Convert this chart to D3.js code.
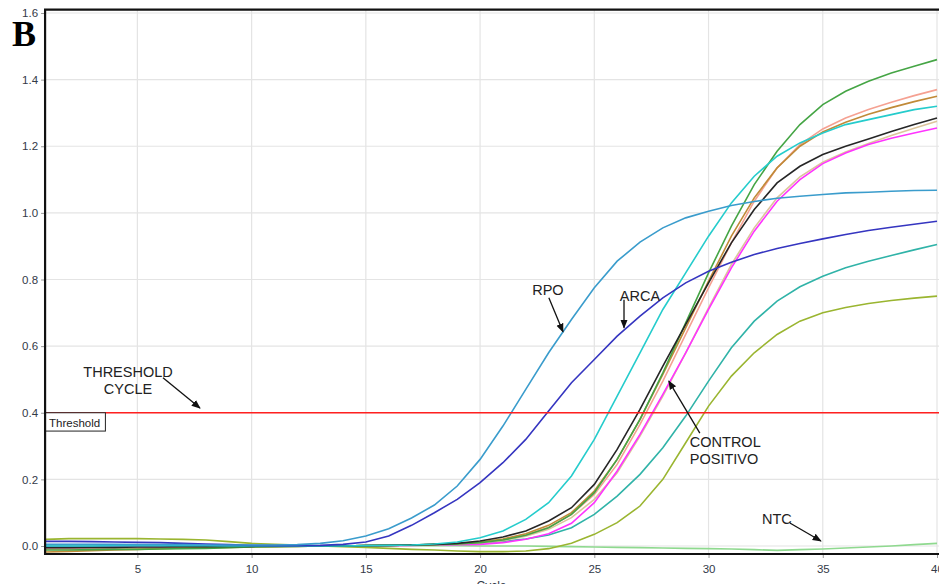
<!DOCTYPE html>
<html>
<head>
<meta charset="utf-8">
<script src="https://cdn.jsdelivr.net/npm/d3@7"></script>
<style>
	body { margin: 0; background: #fff; }
	svg { display: block; font-family: "Liberation Sans", Arial, sans-serif; }
</style>
</head>
<body>
<svg id="chart" width="939" height="584"></svg>
<script>
const cycles = [1, 2, 3, 4, 5, 6, 7, 8, 9, 10, 11, 12, 13, 14, 15, 16, 17, 18, 19, 20,
	21, 22, 23, 24, 25, 26, 27, 28, 29, 30, 31, 32, 33, 34, 35, 36, 37, 38, 39, 40];

const xTicks = [5, 10, 15, 20, 25, 30, 35, 40];
const yTicks = [0.0, 0.2, 0.4, 0.6, 0.8, 1.0, 1.2, 1.4, 1.6];
const threshold = 0.4;

// fluorescence per cycle, one array per well
const ntc = [0, 0, 0, 0, 0, 0, 0, 0, 0, 0,
	0, 0, 0, 0, 0, 0.001, 0.001, 0.001, 0.001, 0,
	0, 0, -0.001, -0.002, -0.003, -0.004, -0.005, -0.006, -0.007, -0.008,
	-0.009, -0.011, -0.013, -0.011, -0.009, -0.006, -0.003, 0, 0.004, 0.008];
const rpo = [0.005, 0.005, 0.005, 0.005, 0.004, 0.004, 0.004, 0.003, 0.003, 0.003,
	0.003, 0.004, 0.008, 0.016, 0.03, 0.052, 0.084, 0.123, 0.18, 0.26,
	0.36, 0.47, 0.58, 0.68, 0.775, 0.855, 0.912, 0.955, 0.985, 1.005,
	1.022, 1.034, 1.044, 1.05, 1.055, 1.06, 1.062, 1.065, 1.067, 1.068];
const arca = [0.014, 0.014, 0.013, 0.012, 0.011, 0.01, 0.008, 0.006, 0.004, 0.002,
	0.001, 0.001, 0.002, 0.005, 0.012, 0.03, 0.062, 0.1, 0.14, 0.19,
	0.25, 0.32, 0.405, 0.49, 0.56, 0.63, 0.69, 0.745, 0.79, 0.825,
	0.852, 0.875, 0.893, 0.908, 0.922, 0.935, 0.947, 0.957, 0.966, 0.975];
const cyan = [0, 0, 0, 0.001, 0.001, 0.001, 0.001, 0.001, 0, 0,
	0, 0, 0, 0, 0.001, 0.002, 0.003, 0.006, 0.012, 0.025,
	0.045, 0.08, 0.13, 0.21, 0.32, 0.45, 0.58, 0.71, 0.82, 0.93,
	1.03, 1.11, 1.17, 1.21, 1.24, 1.265, 1.28, 1.295, 1.31, 1.32];
const black = [-0.005, -0.005, -0.004, -0.004, -0.003, -0.003, -0.002, -0.002, -0.001, -0.001,
	0, 0, 0, 0, 0.001, 0.002, 0.003, 0.005, 0.008, 0.015,
	0.027, 0.045, 0.075, 0.115, 0.185, 0.29, 0.41, 0.54, 0.665, 0.79,
	0.91, 1.01, 1.09, 1.14, 1.175, 1.2, 1.222, 1.244, 1.265, 1.285];
const green = [-0.012, -0.012, -0.011, -0.01, -0.01, -0.009, -0.008, -0.007, -0.005, -0.003,
	-0.002, -0.001, 0, 0, 0.001, 0.002, 0.003, 0.004, 0.006, 0.01,
	0.018, 0.032, 0.055, 0.095, 0.16, 0.26, 0.38, 0.52, 0.67, 0.82,
	0.96, 1.085, 1.185, 1.265, 1.325, 1.365, 1.395, 1.42, 1.44, 1.46];
const salmon = [-0.01, -0.01, -0.009, -0.008, -0.007, -0.006, -0.005, -0.004, -0.003, -0.002,
	-0.001, 0, 0, 0, 0.001, 0.002, 0.003, 0.004, 0.006, 0.01,
	0.019, 0.033, 0.056, 0.095, 0.155, 0.245, 0.365, 0.495, 0.635, 0.775,
	0.91, 1.035, 1.135, 1.205, 1.252, 1.285, 1.31, 1.332, 1.352, 1.37];
const brown = [-0.018, -0.016, -0.014, -0.012, -0.01, -0.008, -0.006, -0.005, -0.004, -0.003,
	-0.002, -0.001, 0, 0, 0.001, 0.002, 0.003, 0.005, 0.007, 0.012,
	0.021, 0.037, 0.062, 0.1, 0.165, 0.26, 0.38, 0.515, 0.655, 0.795,
	0.93, 1.045, 1.135, 1.2, 1.243, 1.272, 1.296, 1.316, 1.334, 1.35];
const tan = [-0.008, -0.008, -0.007, -0.007, -0.006, -0.005, -0.004, -0.003, -0.002, -0.002,
	-0.001, 0, 0, 0, 0.001, 0.002, 0.003, 0.004, 0.006, 0.009,
	0.016, 0.029, 0.05, 0.085, 0.14, 0.22, 0.33, 0.45, 0.58, 0.715,
	0.845, 0.955, 1.045, 1.108, 1.152, 1.183, 1.208, 1.232, 1.254, 1.275];
const magenta = [-0.004, -0.004, -0.004, -0.003, -0.003, -0.003, -0.002, -0.002, -0.001, -0.001,
	0, 0, 0, 0, 0, 0.001, 0.002, 0.003, 0.004, 0.005,
	0.01, 0.02, 0.037, 0.068, 0.13, 0.225, 0.335, 0.455, 0.58, 0.71,
	0.835, 0.945, 1.035, 1.1, 1.148, 1.18, 1.205, 1.224, 1.24, 1.255];
const teal = [-0.002, -0.002, -0.002, -0.001, -0.001, -0.001, 0, 0, 0, 0,
	0, 0, 0, 0, 0.001, 0.002, 0.003, 0.004, 0.006, 0.009,
	0.014, 0.021, 0.033, 0.055, 0.095, 0.15, 0.215, 0.295, 0.39, 0.495,
	0.595, 0.675, 0.735, 0.778, 0.81, 0.835, 0.855, 0.872, 0.889, 0.905];
const olive = [0.02, 0.022, 0.022, 0.022, 0.022, 0.021, 0.02, 0.018, 0.013, 0.008,
	0.005, 0.003, 0, -0.002, -0.004, -0.007, -0.01, -0.012, -0.015, -0.017,
	-0.017, -0.015, -0.008, 0.008, 0.035, 0.07, 0.12, 0.2, 0.31, 0.42,
	0.51, 0.58, 0.635, 0.675, 0.7, 0.716, 0.728, 0.737, 0.744, 0.75];

const series = [
	{ values: ntc, color: "#8fd98f" },
	{ values: olive, color: "#9ab530" },
	{ values: teal, color: "#30b3a8" },
	{ values: tan, color: "#dcc59c" },
	{ values: magenta, color: "#ff33ff" },
	{ values: salmon, color: "#f5a192" },
	{ values: brown, color: "#c08a38" },
	{ values: green, color: "#45a545" },
	{ values: black, color: "#262626" },
	{ values: cyan, color: "#25cccc" },
	{ values: arca, color: "#3535c0" },
	{ values: rpo, color: "#3a9ccc" }
];

// annotations in chart units (cycle, fluorescence)
const notes = [
	{ lines: ["THRESHOLD", "CYCLE"], x: 4.59, y: 0.523, anchor: "middle", from: [6.12, 0.505], to: [7.74, 0.414] },
	{ lines: ["RPO"], x: 22.97, y: 0.769, anchor: "middle", from: [23.01, 0.745], to: [23.63, 0.643] },
	{ lines: ["ARCA"], x: 27.0, y: 0.751, anchor: "middle", from: [26.3, 0.739], to: [26.3, 0.655] },
	{ lines: ["CONTROL", "POSITIVO"], x: 29.18, y: 0.312, anchor: "start", from: [29.62, 0.339], to: [28.26, 0.495] },
	{ lines: ["NTC"], x: 32.99, y: 0.081, anchor: "middle", from: [33.56, 0.069], to: [34.92, 0.015] }
];

let svg = d3.select("#chart");

let xScale = d3.scaleLinear()
		.domain([1, 40])
		.range([46, 937]),
	yScale = d3.scaleLinear()
		.domain([0, 1.6])
		.range([546, 13]);

const frameLeft = xScale(0.96),
	frameRight = 939,
	frameTop = yScale(1.61),
	frameBottom = yScale(-0.024);

svg.append("defs").append("marker")
	.attr("id", "head")
	.attr("viewBox", "0 0 10 10")
	.attr("refX", 9)
	.attr("refY", 5)
	.attr("markerWidth", 7)
	.attr("markerHeight", 7)
	.attr("orient", "auto")
	.append("path")
	.attr("d", "M0,1L10,5L0,9Z")
	.attr("fill", "#111");

// grid
svg.append("g")
	.selectAll("line")
	.data(xTicks)
	.join("line")
	.attr("x1", d => xScale(d))
	.attr("x2", d => xScale(d))
	.attr("y1", frameTop)
	.attr("y2", frameBottom)
	.attr("stroke", "#e4e4e4")
	.attr("stroke-width", 1.2);

svg.append("g")
	.selectAll("line")
	.data(yTicks)
	.join("line")
	.attr("x1", frameLeft)
	.attr("x2", frameRight)
	.attr("y1", d => yScale(d))
	.attr("y2", d => yScale(d))
	.attr("stroke", "#e4e4e4")
	.attr("stroke-width", 1.2);

// axes
let xAxis = d3.axisBottom(xScale)
		.tickValues(xTicks)
		.tickSize(4)
		.tickPadding(7),
	yAxis = d3.axisLeft(yScale)
		.tickValues(yTicks)
		.tickFormat(d3.format(".1f"))
		.tickSize(4)
		.tickPadding(3);

svg.append("g")
	.attr("transform", "translate(0," + frameBottom + ")")
	.call(xAxis)
	.call(g => g.select(".domain").remove());

svg.append("g")
	.attr("transform", "translate(" + frameLeft + ",0)")
	.call(yAxis)
	.call(g => g.select(".domain").remove());

svg.selectAll(".tick text")
	.attr("fill", "#333a48")
	.attr("font-size", 11.5);
svg.selectAll(".tick line")
	.attr("stroke", "#999");

// curves
let lineGen = d3.line()
	.x((d, i) => xScale(cycles[i]))
	.y(d => yScale(d));

for (let i = 0; i < series.length; i++) {
	svg.append("path")
		.attr("d", lineGen(series[i].values))
		.attr("stroke", series[i].color)
		.attr("stroke-width", 1.6)
		.attr("fill", "none");
}

// threshold
svg.append("line")
	.attr("x1", frameLeft)
	.attr("x2", frameRight)
	.attr("y1", yScale(threshold))
	.attr("y2", yScale(threshold))
	.attr("stroke", "#ff2020")
	.attr("stroke-width", 1.5);

svg.append("rect")
	.attr("x", frameLeft)
	.attr("y", yScale(threshold))
	.attr("width", xScale(3.6) - frameLeft)
	.attr("height", yScale(threshold - 0.055) - yScale(threshold))
	.attr("fill", "#fff")
	.attr("stroke", "#222")
	.attr("stroke-width", 1);

svg.append("text")
	.attr("x", frameLeft + 4)
	.attr("y", yScale(threshold - 0.042))
	.attr("font-size", 11.5)
	.attr("fill", "#222")
	.text("Threshold");

// frame
svg.append("path")
	.attr("d", "M" + frameRight + "," + frameTop + "H" + frameLeft + "V" + frameBottom + "H" + frameRight)
	.attr("stroke", "#111")
	.attr("stroke-width", 2.2)
	.attr("fill", "none");

// notes
for (let i = 0; i < notes.length; i++) {
	let n = notes[i];
	let t = svg.append("text")
		.attr("x", xScale(n.x))
		.attr("y", yScale(n.y))
		.attr("text-anchor", n.anchor)
		.attr("dominant-baseline", "central")
		.attr("font-size", 14.5)
		.attr("fill", "#222");
	n.lines.forEach((s, k) => {
		t.append("tspan")
			.attr("x", xScale(n.x))
			.attr("dy", k === 0 ? 0 : 17)
			.text(s);
	});
	svg.append("line")
		.attr("x1", xScale(n.from[0]))
		.attr("y1", yScale(n.from[1]))
		.attr("x2", xScale(n.to[0]))
		.attr("y2", yScale(n.to[1]))
		.attr("stroke", "#111")
		.attr("stroke-width", 1.3)
		.attr("marker-end", "url(#head)");
}

svg.append("text")
	.attr("x", xScale(20.5))
	.attr("y", 590)
	.attr("text-anchor", "middle")
	.attr("font-size", 12)
	.attr("fill", "#333a48")
	.text("Cycle");

svg.append("text")
	.attr("x", 12)
	.attr("y", 46)
	.attr("font-family", "'Liberation Serif', 'Times New Roman', serif")
	.attr("font-weight", "bold")
	.attr("font-size", 36)
	.attr("fill", "#000")
	.text("B");
</script>
</body>
</html>
